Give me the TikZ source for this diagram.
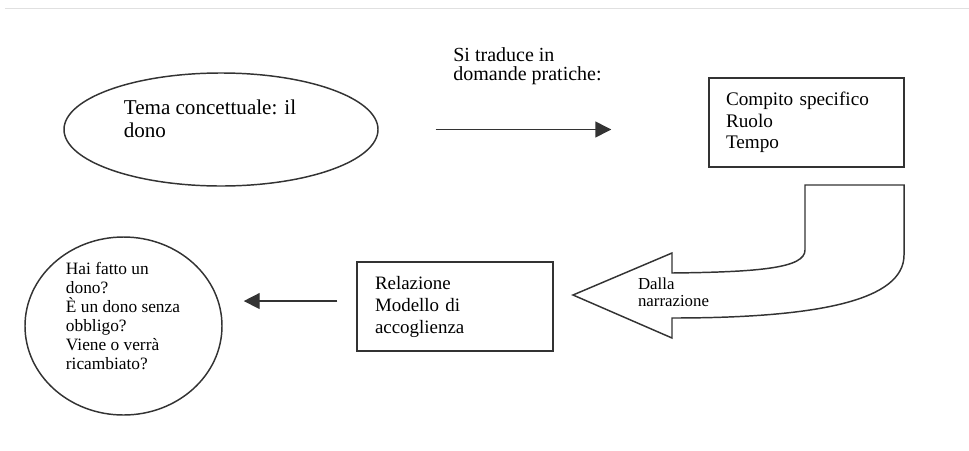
\documentclass[tikz,border=0pt]{standalone}
\usepackage{fontspec}
\setmainfont{Liberation Serif}
\usetikzlibrary{shapes.geometric,arrows.meta}

\tikzset{
  tratto/.style={draw=black!80, line width=1.1pt},
  riquadro/.style={tratto, rectangle, align=left, inner ysep=0pt, minimum height=66.75pt},
  testo/.style={align=left, inner sep=0pt},
  freccia/.style={tratto, -{Triangle[length=12pt,width=12pt]}},
}

\begin{document}
\begin{tikzpicture}[x=0.75pt,y=-0.75pt]
\useasboundingbox (0,0) rectangle (969,450);
\draw[black!12] (5,8) -- (969,8);

% tema di partenza
\node[tratto, ellipse, minimum width=235.5pt, minimum height=84.75pt] (tema) at (221,129.5) {};
\node[testo, font=\fontsize{15.8}{17.25}\selectfont] (temaT) at (210,119) {Tema concettuale: il\\dono};

\node[testo, font=\fontsize{15}{14.5}\selectfont] (traduce) at (527.5,66) {Si traduce in\\domande pratiche:};

\node[riquadro, text width=120.75pt, inner xsep=12.75pt, font=\fontsize{14.4}{16.1}\selectfont] (compito) at (806.5,122.5) {Compito specifico\\Ruolo\\Tempo};

% freccia curva
\draw[tratto, fill=white] (805,185) -- (904,185) -- (904,255)
  .. controls (904,300) and (820,318) .. (672,318) -- (672,338) -- (573,295)
  -- (672,253) -- (672,273) .. controls (760,272) and (805,268) .. (805,250) -- cycle;
\node[testo, font=\fontsize{12.6}{12.75}\selectfont] (narrazione) at (673.5,292.7) {Dalla\\narrazione};

\node[riquadro, text width=120pt, inner xsep=13.5pt, font=\fontsize{14.2}{16.5}\selectfont] (relazione) at (455,306.5) {Relazione\\Modello di\\accoglienza};

\node[tratto, ellipse, minimum width=147.75pt, minimum height=133.5pt] (dubbi) at (123.5,326) {};
\node[testo, font=\fontsize{13}{14.25}\selectfont] (dubbiT) at (123,316.5) {Hai fatto un\\dono?\\È un dono senza\\obbligo?\\Viene o verrà\\ricambiato?};

\draw[freccia, shorten <=42.75pt, shorten >=72.75pt] (tema.east) -- (tema.east -| compito.west);
\draw[freccia, shorten <=14.25pt, shorten >=15.75pt] ([yshift=4.1pt]relazione.west) -- ([yshift=4.1pt]relazione.west -| dubbi.east);

\end{tikzpicture}
\end{document}
